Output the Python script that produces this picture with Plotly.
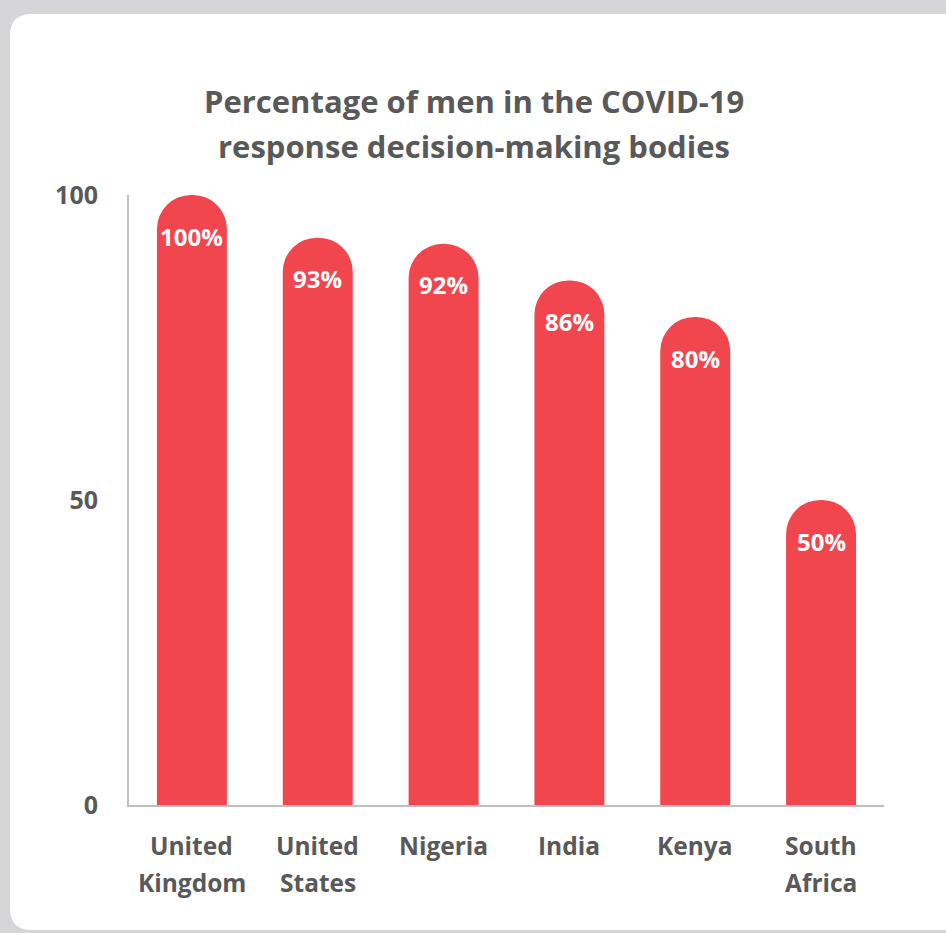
import plotly.graph_objects as go

categories = ["United<br>Kingdom", "United<br>States", "Nigeria", "India", "Kenya", "South<br>Africa"]
values = [100, 93, 92, 86, 80, 50]
y_ticks = [0, 50, 100]
title_lines = ["Percentage of men in the COVID-19", "response decision-making bodies"]

BAR = "#F2464F"
GREY = "#595959"
FONT = "Open Sans"

fig = go.Figure()
fig.add_trace(go.Bar(
    x=categories, y=values,
    marker=dict(color=BAR, cornerradius="50%", line=dict(width=0)),
    hoverinfo="skip",
))

# value labels inside the rounded tops
for c, v in zip(categories, values):
    fig.add_annotation(x=c, y=v, text=f"{v}%", showarrow=False, yshift=-41,
                       yanchor="middle",
                       font=dict(family=FONT, size=24, color="white", weight="bold"))

# category labels (two lines, wide spacing)
for c in categories:
    for i, part in enumerate(c.split("<br>")):
        fig.add_annotation(x=c, y=0, yref="y", text=part, showarrow=False,
                           yanchor="middle", yshift=-40 - 37 * i,
                           font=dict(family=FONT, size=24.5, color=GREY, weight="bold"))

# title lines
for i, t in enumerate(title_lines):
    fig.add_annotation(x=0.5, xref="paper", y=101 + 45 * i, text=t, showarrow=False,
                       xanchor="center", yanchor="middle",
                       font=dict(family=FONT, size=31, color=GREY, weight="bold"))

# card background (pixel geometry converted to paper coords)
L, R, T, B = 129, 884, 195, 805
W, H = R - L, B - T
def px(x): return (x - L) / W
def py(y): return (B - y) / H
for a in fig.layout.annotations:
    if a.xref == "paper":
        a.x = px(474)
        a.y = py(a.y)
        a.yref = "paper"
r = 22
x0, x1, y0, y1 = 10, 980, 14, 930
path = (f"M {px(x0)},{py(y0 + r)} Q {px(x0)},{py(y0)} {px(x0 + r)},{py(y0)} "
        f"L {px(x1)},{py(y0)} L {px(x1)},{py(y1)} L {px(x0 + r)},{py(y1)} "
        f"Q {px(x0)},{py(y1)} {px(x0)},{py(y1 - r)} Z")
fig.add_shape(type="path", path=path, xref="paper", yref="paper",
              fillcolor="white", line=dict(width=0), layer="below")

fig.update_layout(
    width=946, height=933,
    margin=dict(l=L, r=946 - R, t=T, b=933 - B),
    paper_bgcolor="#D6D6D8",
    plot_bgcolor="rgba(0,0,0,0)",
    showlegend=False,
    bargap=0.444,
    font=dict(family=FONT, color=GREY),
)
fig.update_xaxes(showline=True, linecolor="#BFBFBF", linewidth=2, showgrid=False,
                 ticks="", showticklabels=False)
fig.update_yaxes(range=[0, 100], tickvals=y_ticks, showline=True, linecolor="#BFBFBF",
                 linewidth=2, showgrid=False, zeroline=False, ticks="",
                 ticklabelstandoff=24,
                 tickfont=dict(family=FONT, size=25, color=GREY, weight="bold"))

fig.write_html("out.html", config={"displayModeBar": False},
               post_script="document.body.style.margin='0';")
